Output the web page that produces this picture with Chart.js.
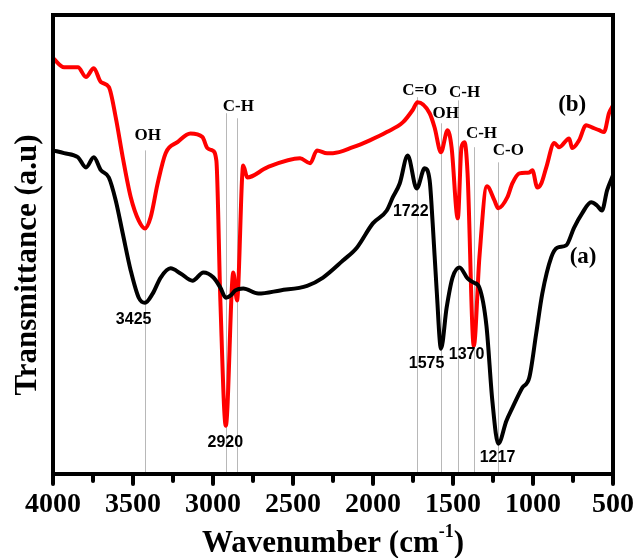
<!DOCTYPE html>
<html>
<head>
<meta charset="utf-8">
<script src="https://cdn.jsdelivr.net/npm/chart.js@4.4.1/dist/chart.umd.min.js"></script>
<style>
  html, body { margin: 0; padding: 0; background: #ffffff; }
  #wrap { width: 637px; height: 558px; }
</style>
</head>
<body>
<div id="wrap"><canvas id="c" width="637" height="558"></canvas></div>
<script>
// ---- Data ----
const wavenumbersA = [4000,3931,3844,3794,3745,3701,3651,3608,3564,3514,3464,3425,3377,3327,3265,3203,3128,3060,2997,2954,2920,2889,2860,2811,2717,2580,2412,2312,2188,2101,2001,1914,1876,1833,1783,1727,1677,1646,1627,1602,1575,1540,1503,1459,1409,1370,1335,1291,1254,1217,1166,1129,1067,1023,980,942,886,849,793,743,693,637,600,569,537,500];
const transmittanceA = [70.5,69.9,69.0,66.8,69.0,66.2,64.6,59.6,52.4,44.3,38.4,37.3,39.3,42.8,44.8,43.7,42.1,43.9,42.8,40.6,38.4,38.9,40.0,40.4,39.3,40.0,41.0,42.8,46.5,49.3,54.6,57.4,60.3,63.3,69.4,62.2,66.6,64.0,54.6,40.0,27.3,36.2,42.8,45.0,42.6,41.7,40.6,32.3,15.9,6.6,11.6,14.4,18.8,21.0,30.6,39.3,47.2,49.3,49.8,53.7,56.8,59.2,58.5,57.4,61.8,65.1];

const wavenumbersB = [4000,3931,3844,3794,3745,3701,3651,3608,3564,3514,3464,3425,3390,3346,3296,3222,3141,3066,3035,3004,2979,2954,2920,2873,2850,2811,2786,2661,2456,2393,2350,2287,2250,2125,2020,1914,1814,1752,1722,1646,1615,1575,1534,1509,1470,1447,1428,1409,1370,1335,1288,1241,1217,1160,1129,1085,1023,1004,973,948,917,867,836,774,755,712,668,631,587,556,525,500];
const transmittanceB = [90.6,88.6,88.6,86.5,88.4,85.4,84.3,77.7,69.0,60.3,55.2,53.5,55.9,63.3,69.9,72.3,74.2,73.4,71.0,70.5,68.3,37.8,10.5,43.9,37.8,67.2,64.6,66.8,68.8,67.7,70.5,69.9,69.9,71.2,72.7,74.5,76.6,79.3,81.0,78.6,75.5,70.1,74.9,71.2,55.7,71.2,72.3,65.5,27.9,47.2,62.7,59.6,57.9,60.3,63.3,65.5,65.7,66.2,62.4,63.3,66.8,72.1,71.2,73.1,71.0,72.7,76.0,75.5,74.9,74.5,78.6,80.3];

const seriesNames = ['(a)', '(b)'];
const markerWavenumbers = [3425, 2920, 2850, 1722, 1575, 1470, 1370, 1217];
const groupLabels = ['OH', 'C-H', 'C=O', 'OH', 'C-H', 'C-H', 'C-O'];
const peakLabels = ['3425', '2920', '1722', '1575', '1370', '1217'];
const xTitle = 'Wavenumber (cm';
const xTitleSup = '-1';
const yTitle = 'Transmittance (a.u)';

// ---- Layout (in data coordinates: wavenumber, transmittance) ----
const markerTops = [70.5, 78.6, 77.5, 82.1, 76.4, 81.4, 71.2, 67.9];
const groupLabelPos = [[3408,73.8],[2842,80.1],[1708,83.6],[1546,78.6],[1428,83.2],[1322,74.2],[1154,70.5]];
const peakLabelPos = [[3496,33.6],[2923,6.8],[1764,57.2],[1665,24.0],[1415,26.0],[1222,3.5]];
const seriesLabelPos = [[687,47.2],[755,80.3]];

const SERIF = '"Liberation Serif", "Times New Roman", serif';
const SANS = '"Liberation Sans", Arial, sans-serif';

const overlay = {
  id: 'overlay',
  beforeDatasetsDraw(chart) {
    const { ctx, chartArea: a, scales: { x, y } } = chart;
    ctx.save();
    ctx.strokeStyle = '#b8b8b8';
    ctx.lineWidth = 1;
    markerWavenumbers.forEach((w, i) => {
      const px = Math.round(x.getPixelForValue(w)) + 0.5;
      ctx.beginPath();
      ctx.moveTo(px, y.getPixelForValue(markerTops[i]));
      ctx.lineTo(px, a.bottom);
      ctx.stroke();
    });
    ctx.restore();
  },
  afterDatasetsDraw(chart) {
    const { ctx, chartArea: a, scales: { x, y } } = chart;
    ctx.save();
    // frame
    ctx.strokeStyle = '#000';
    ctx.lineWidth = 4;
    ctx.lineJoin = 'miter';
    ctx.strokeRect(a.left, a.top, a.right - a.left, a.bottom - a.top);
    // ticks
    ctx.lineCap = 'round';
    x.ticks.forEach(t => {
      const px = x.getPixelForValue(t.value);
      const major = t.value % 500 === 0;
      ctx.beginPath();
      ctx.moveTo(px, a.bottom);
      ctx.lineTo(px, a.bottom + (major ? 10 : 7));
      ctx.stroke();
    });
    // annotations
    ctx.fillStyle = '#000';
    ctx.textAlign = 'center';
    ctx.textBaseline = 'middle';
    ctx.font = 'bold 17px ' + SERIF;
    groupLabels.forEach((t, i) => {
      ctx.fillText(t, x.getPixelForValue(groupLabelPos[i][0]), y.getPixelForValue(groupLabelPos[i][1]));
    });
    ctx.font = 'bold 16px ' + SANS;
    peakLabels.forEach((t, i) => {
      ctx.fillText(t, x.getPixelForValue(peakLabelPos[i][0]), y.getPixelForValue(peakLabelPos[i][1]));
    });
    ctx.font = 'bold 23px ' + SERIF;
    seriesNames.forEach((t, i) => {
      ctx.fillText(t, x.getPixelForValue(seriesLabelPos[i][0]), y.getPixelForValue(seriesLabelPos[i][1]));
    });
    ctx.restore();
  },
  afterDraw(chart) {
    const { ctx } = chart;
    ctx.save();
    ctx.fillStyle = '#000';
    // y title
    ctx.font = 'bold 31px ' + SERIF;
    ctx.textAlign = 'center';
    ctx.textBaseline = 'alphabetic';
    ctx.translate(36, 265);
    ctx.rotate(-Math.PI / 2);
    ctx.fillText(yTitle, 0, 0);
    ctx.setTransform(1, 0, 0, 1, 0, 0);
    // x title with superscript
    ctx.textAlign = 'left';
    ctx.font = 'bold 31px ' + SERIF;
    const w1 = ctx.measureText(xTitle).width;
    const w3 = ctx.measureText(')').width;
    ctx.font = 'bold 18px ' + SERIF;
    const w2 = ctx.measureText(xTitleSup).width;
    let sx = 333 - (w1 + w2 + w3) / 2;
    ctx.font = 'bold 31px ' + SERIF;
    ctx.fillText(xTitle, sx, 552);
    ctx.font = 'bold 18px ' + SERIF;
    ctx.fillText(xTitleSup, sx + w1, 537);
    ctx.font = 'bold 31px ' + SERIF;
    ctx.fillText(')', sx + w1 + w2, 552);
    ctx.restore();
  }
};

const toPoints = (xs, ys) => xs.map((w, i) => ({ x: w, y: ys[i] }));

new Chart(document.getElementById('c'), {
  type: 'line',
  data: {
    datasets: [
      { label: seriesNames[0], data: toPoints(wavenumbersA, transmittanceA), borderColor: '#000000', borderWidth: 4, pointRadius: 0, cubicInterpolationMode: 'monotone', fill: false },
      { label: seriesNames[1], data: toPoints(wavenumbersB, transmittanceB), borderColor: '#ff0000', borderWidth: 4, pointRadius: 0, cubicInterpolationMode: 'monotone', fill: false }
    ]
  },
  options: {
    responsive: false,
    devicePixelRatio: 1,
    animation: false,
    layout: { padding: { top: 15, right: 24, left: 0, bottom: 0 } },
    plugins: { legend: { display: false }, tooltip: { enabled: false } },
    scales: {
      x: {
        type: 'linear', reverse: true, min: 500, max: 4000,
        ticks: {
          stepSize: 250, autoSkip: false, maxRotation: 0, padding: 14, color: '#000',
          font: { family: SERIF, size: 28, weight: 'bold' },
          callback: v => (v % 500 === 0 ? String(v) : '')
        },
        grid: { display: false, drawTicks: false },
        border: { display: false },
        afterFit: s => { s.height = 84; s.paddingLeft = 0; s.paddingRight = 0; }
      },
      y: {
        min: 0, max: 100,
        ticks: { display: false },
        grid: { display: false, drawTicks: false },
        border: { display: false },
        afterFit: s => { s.width = 53; }
      }
    }
  },
  plugins: [overlay]
});
</script>
</body>
</html>
